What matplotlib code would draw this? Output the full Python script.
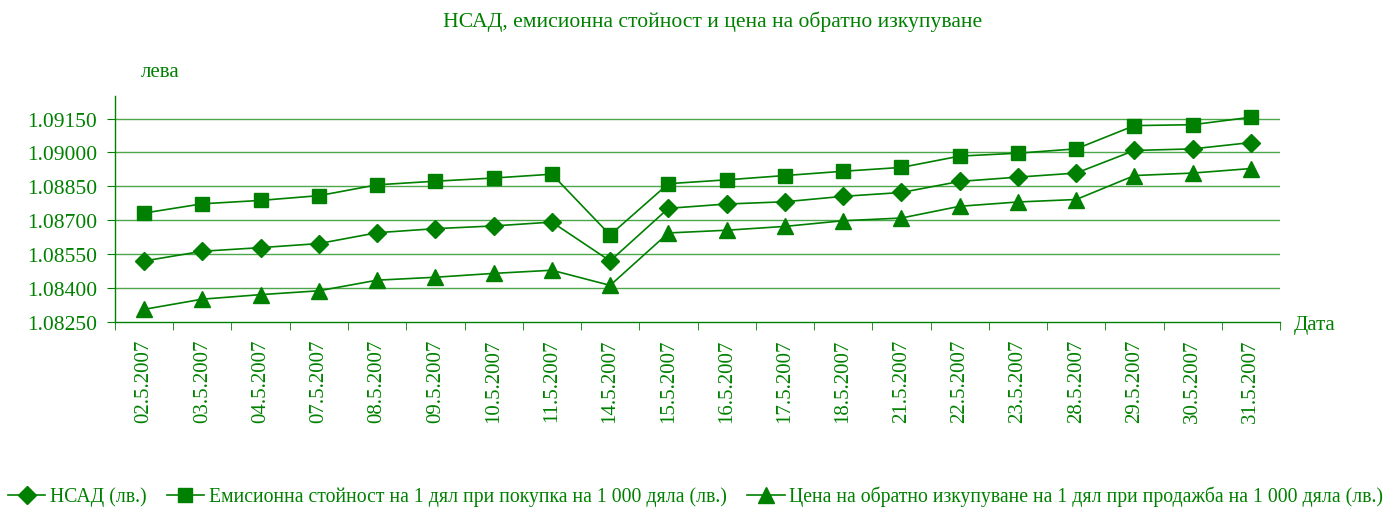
#!/usr/bin/env python3
"""НСАД, емисионна стойност и цена на обратно изкупуване - май 2007."""

import matplotlib
matplotlib.use('Agg')
import matplotlib.pyplot as plt

GREEN = '#008000'

dates = ['02.5.2007', '03.5.2007', '04.5.2007', '07.5.2007', '08.5.2007',
         '09.5.2007', '10.5.2007', '11.5.2007', '14.5.2007', '15.5.2007',
         '16.5.2007', '17.5.2007', '18.5.2007', '21.5.2007', '22.5.2007',
         '23.5.2007', '28.5.2007', '29.5.2007', '30.5.2007', '31.5.2007']

nav = [1.08520, 1.08563, 1.08579, 1.08597, 1.08645, 1.08663, 1.08675, 1.08692,
       1.08520, 1.08753, 1.08772, 1.08782, 1.08806, 1.08823, 1.08872, 1.08891,
       1.08909, 1.09009, 1.09016, 1.09044]

issue_price = [1.08732, 1.08773, 1.08788, 1.08809, 1.08857, 1.08873, 1.08887,
               1.08904, 1.08635, 1.08862, 1.08879, 1.08898, 1.08917, 1.08934,
               1.08984, 1.08997, 1.09016, 1.09119, 1.09123, 1.09156]

redemption_price = [1.08306, 1.08351, 1.08371, 1.08388, 1.08435, 1.08448,
                    1.08465, 1.08479, 1.08412, 1.08644, 1.08656, 1.08673,
                    1.08698, 1.08710, 1.08762, 1.08781, 1.08792, 1.08898,
                    1.08909, 1.08929]

labels = ['НСАД (лв.)',
          'Емисионна стойност на 1 дял при покупка на 1 000 дяла (лв.)',
          'Цена на обратно изкупуване на 1 дял при продажба на 1 000 дяла (лв.)']

y_ticks = [1.08250, 1.08400, 1.08550, 1.08700, 1.08850, 1.09000, 1.09150]

plt.rcParams['font.family'] = ['Liberation Serif', 'DejaVu Serif']

fig = plt.figure(figsize=(13.87, 5.10), dpi=100)
ax = fig.add_axes([0.0829, 0.3667, 0.8400, 0.4431])

x = list(range(len(dates)))
ax.plot(x, nav, '-D', color=GREEN, linewidth=1.2, markersize=9, label=labels[0])
ax.plot(x, issue_price, '-s', color=GREEN, linewidth=1.2, markersize=10, label=labels[1])
ax.plot(x, redemption_price, '-^', color=GREEN, linewidth=1.2, markersize=11, label=labels[2])

ax.set_xlim(-0.5, len(dates) - 0.5)
ax.set_ylim(1.0825, 1.0925)
ax.set_yticks(y_ticks)
ax.set_yticklabels([f'{v:.5f}' for v in y_ticks])
ax.set_xticks(x)
ax.set_xticklabels(dates, rotation=90)
ax.set_xticks([i - 0.5 for i in range(len(dates) + 1)], minor=True)
ax.tick_params(axis='x', which='major', length=0, pad=12, labelsize=15, labelcolor=GREEN)
ax.tick_params(axis='x', which='minor', length=6, color=GREEN, direction='out')
ax.tick_params(axis='y', length=6, color=GREEN, labelsize=15.5, labelcolor=GREEN, pad=7)

for v in y_ticks[1:]:
    ax.axhline(v, color=GREEN, linewidth=1.0, alpha=0.7, zorder=0)

for side in ('top', 'right'):
    ax.spines[side].set_visible(False)
for side in ('left', 'bottom'):
    ax.spines[side].set_color(GREEN)
    ax.spines[side].set_linewidth(1.0)

fig.text(0.514, 0.958, 'НСАД, емисионна стойност и цена на обратно изкупуване',
         ha='center', va='center', fontsize=15.6, color=GREEN)
fig.text(0.1154, 0.858, 'лева', ha='center', va='center', fontsize=15, color=GREEN)
fig.text(0.933, 0.362, 'Дата', ha='left', va='center', fontsize=15, color=GREEN)

leg = fig.legend(loc='center', bbox_to_anchor=(0.5015, 0.025), ncol=3, frameon=False,
                 fontsize=14.25, handlelength=1.9, columnspacing=1.0, handletextpad=0.25,
                 borderaxespad=0)
for t in leg.get_texts():
    t.set_color(GREEN)

fig.savefig('out.png', dpi=100)
